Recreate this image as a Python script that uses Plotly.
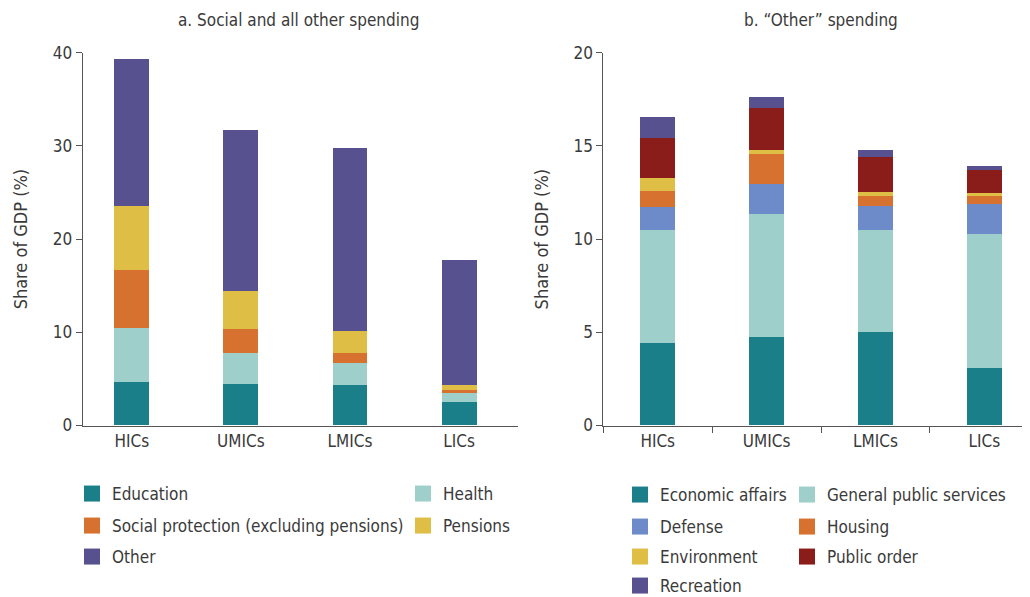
import plotly.graph_objects as go

categories = ["HICs", "UMICs", "LMICs", "LICs"]

# Panel a: social and all other spending (% of GDP)
education = [4.7, 4.4, 4.3, 2.5]
health = [5.8, 3.4, 2.4, 1.0]
social_protection = [6.2, 2.6, 1.1, 0.3]
pensions = [6.8, 4.0, 2.3, 0.5]
other = [15.8, 17.3, 19.7, 13.5]

# Panel b: "Other" spending (% of GDP)
economic_affairs = [4.4, 4.75, 5.0, 3.1]
general_public_services = [6.1, 6.6, 5.5, 7.2]
defense = [1.2, 1.6, 1.3, 1.6]
housing = [0.9, 1.6, 0.5, 0.4]
environment = [0.7, 0.25, 0.25, 0.15]
public_order = [2.1, 2.25, 1.85, 1.25]
recreation = [1.15, 0.6, 0.4, 0.2]

TEAL = "#1b7f8a"
LIGHT = "#9ecfcb"
ORANGE = "#d6712f"
YELLOW = "#dfbe45"
PURPLE = "#57528f"
BLUE = "#6d8bc8"
RED = "#8a1c1a"

FONT = "DejaVu Sans Condensed, Liberation Sans Narrow, Roboto, sans-serif"
TXT = "#3a3a3a"
AX = "#555555"

# the page body adds an 8px offset; the figure is sized to fill the rest of the window
OFF = 8
W, H = 1030 - OFF, 597 - OFF
def px_x(v):
    return (v - OFF) / W
def px_y(v):
    return (H - (v - OFF)) / H

fig = go.Figure()

# (name, values, colour, legend id, entry width)
panel_a = [("Education", education, TEAL, "legend", 286),
           ("Health", health, LIGHT, "legend", 120),
           ("Social protection (excluding pensions)", social_protection, ORANGE, "legend2", 286),
           ("Pensions", pensions, YELLOW, "legend2", 120),
           ("Other", other, PURPLE, "legend3", 120)]
panel_b = [("Economic affairs", economic_affairs, TEAL, "legend4", 122),
           ("General public services", general_public_services, LIGHT, "legend4", 200),
           ("Defense", defense, BLUE, "legend5", 122),
           ("Housing", housing, ORANGE, "legend5", 200),
           ("Environment", environment, YELLOW, "legend6", 122),
           ("Public order", public_order, RED, "legend6", 200),
           ("Recreation", recreation, PURPLE, "legend7", 200)]

for name, vals, col, lg, lw in panel_a:
    fig.add_trace(go.Bar(x=categories, y=vals, name=name, marker=dict(color=col, line=dict(width=0)),
                         width=0.32, xaxis="x", yaxis="y", showlegend=False))
for name, vals, col, lg, lw in panel_b:
    fig.add_trace(go.Bar(x=categories, y=vals, name=name, marker=dict(color=col, line=dict(width=0)),
                         width=0.32, xaxis="x2", yaxis="y2", showlegend=False))

# legend entries
for name, vals, col, lg, lw in panel_a:
    fig.add_trace(go.Scatter(x=[None], y=[None], mode="markers", name=name, legend=lg, legendwidth=lw,
                             marker=dict(symbol="square", size=16, color=col),
                             xaxis="x", yaxis="y", hoverinfo="skip"))
for name, vals, col, lg, lw in panel_b:
    fig.add_trace(go.Scatter(x=[None], y=[None], mode="markers", name=name, legend=lg, legendwidth=lw,
                             marker=dict(symbol="square", size=16, color=col),
                             xaxis="x2", yaxis="y2", hoverinfo="skip"))

ydom = [px_y(425.5), px_y(52.7)]
xdom_a = [px_x(82.7), px_x(518)]
xdom_b = [px_x(603.3), 1.0]
rng_a = [-0.45, 3.54]

axis_common = dict(showline=True, linecolor=AX, linewidth=1, showgrid=False, zeroline=False,
                   tickfont=dict(family=FONT, size=17, color=TXT))

legend_common = dict(orientation="h", xanchor="left", yanchor="middle", bgcolor="rgba(0,0,0,0)",
                     traceorder="normal",
                     font=dict(family=FONT, size=17, color=TXT), borderwidth=0)

ytitle_font = dict(family=FONT, size=18, color=TXT)

fig.update_layout(
    width=W, height=H,
    margin=dict(l=0, r=0, t=0, b=0, autoexpand=False),
    paper_bgcolor="white", plot_bgcolor="white",
    barmode="stack",
    font=dict(family=FONT, color=TXT),
    xaxis=dict(domain=xdom_a, anchor="y", type="category", range=rng_a, ticks="", **axis_common),
    xaxis3=dict(domain=xdom_a, anchor="y", overlaying="x", type="linear", range=rng_a,
                tickvals=[0.55, 1.55, 2.55, 3.54], ticks="outside", ticklen=6, tickcolor=AX,
                showticklabels=False, showline=False, showgrid=False, zeroline=False),
    yaxis=dict(domain=ydom, anchor="x", range=[0, 40], dtick=10, ticks="outside", ticklen=6,
               tickcolor=AX, title=dict(text="Share of GDP (%)", font=ytitle_font, standoff=20),
               **axis_common),
    xaxis2=dict(domain=xdom_b, anchor="y2", type="category", range=[-0.5, 3.42], ticks="outside",
                tickson="boundaries", ticklen=6, tickcolor=AX, **axis_common),
    yaxis2=dict(domain=ydom, anchor="x2", range=[0, 20], dtick=5, ticks="outside", ticklen=6,
                tickcolor=AX, title=dict(text="Share of GDP (%)", font=ytitle_font, standoff=20),
                **axis_common),
    legend=dict(x=px_x(72), y=px_y(494), **legend_common),
    legend2=dict(x=px_x(72), y=px_y(526), **legend_common),
    legend3=dict(x=px_x(72), y=px_y(557), **legend_common),
    legend4=dict(x=px_x(620), y=px_y(495), **legend_common),
    legend5=dict(x=px_x(620), y=px_y(527), **legend_common),
    legend6=dict(x=px_x(620), y=px_y(557), **legend_common),
    legend7=dict(x=px_x(620), y=px_y(586), **legend_common),
    annotations=[
        dict(text="a. Social and all other spending", x=px_x(298), y=px_y(20), xref="paper", yref="paper",
             showarrow=False, xanchor="center", yanchor="middle", font=dict(family=FONT, size=17, color=TXT)),
        dict(text="b. \u201cOther\u201d spending", x=px_x(821), y=px_y(20), xref="paper", yref="paper",
             showarrow=False, xanchor="center", yanchor="middle", font=dict(family=FONT, size=17, color=TXT)),
    ],
)

fig.write_html("out.html")
